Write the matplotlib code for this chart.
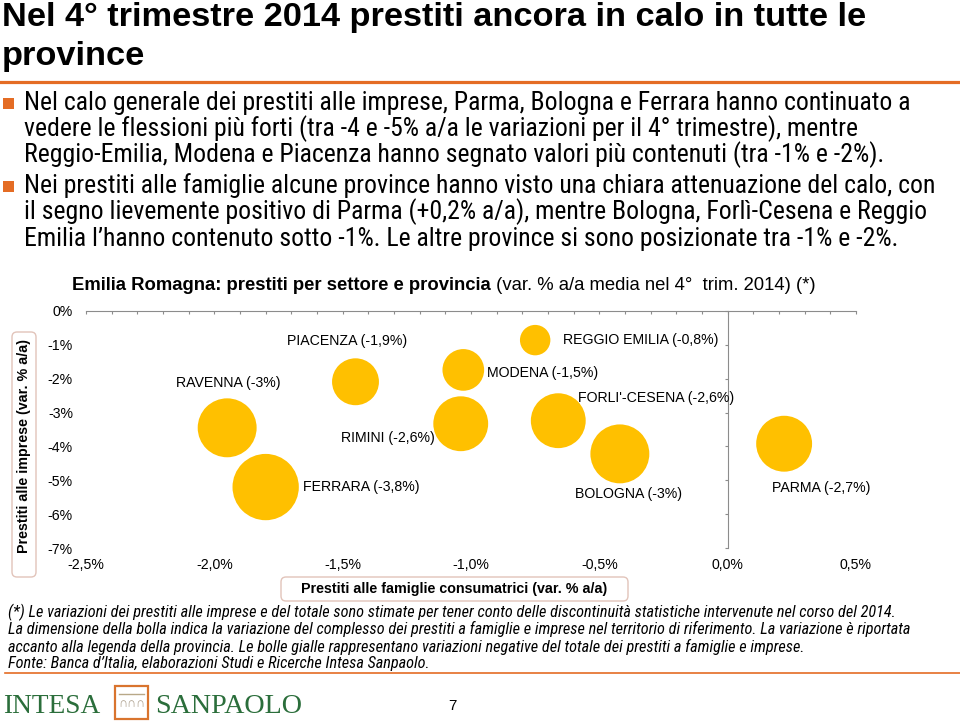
import matplotlib
matplotlib.use("Agg")
import matplotlib.pyplot as plt
from matplotlib.patches import FancyBboxPatch, Rectangle
from matplotlib.lines import Line2D
from matplotlib.ticker import FixedLocator, MultipleLocator, FuncFormatter
from matplotlib.transforms import Affine2D

# data (var. % a/a, 4th quarter 2014)
provinces = ["PIACENZA", "MODENA", "RIMINI", "RAVENNA", "FERRARA",
             "REGGIO EMILIA", "FORLI'-CESENA", "BOLOGNA", "PARMA"]
famiglie = [-1.45, -1.03, -1.04, -1.95, -1.80, -0.75, -0.66, -0.42, 0.22]
imprese = [-2.09, -1.74, -3.33, -3.45, -5.20, -0.86, -3.24, -4.22, -3.92]
totale = [-1.9, -1.5, -2.6, -3.0, -3.8, -0.8, -2.6, -3.0, -2.7]

x_ticks = [-2.5, -2.0, -1.5, -1.0, -0.5, 0.0, 0.5]
y_ticks = [0, -1, -2, -3, -4, -5, -6, -7]

# label offsets from bubble centre, in points
label_offsets = {
    "PIACENZA": (-49, 29), "MODENA": (17, -2), "RIMINI": (-86, -10),
    "RAVENNA": (-37, 32), "FERRARA": (27, 0), "REGGIO EMILIA": (20, 0),
    "FORLI'-CESENA": (14, 16), "BOLOGNA": (-32, -29), "PARMA": (-9, -32),
}

title_lines = ["Nel 4° trimestre 2014 prestiti ancora in calo in tutte le",
               "province"]
bullets = [
    ["Nel calo generale dei prestiti alle imprese, Parma, Bologna e Ferrara hanno continuato a",
     "vedere le flessioni più forti (tra -4 e -5% a/a le variazioni per il 4° trimestre), mentre",
     "Reggio-Emilia, Modena e Piacenza hanno segnato valori più contenuti (tra -1% e -2%)."],
    ["Nei prestiti alle famiglie alcune province hanno visto una chiara attenuazione del calo, con",
     "il segno lievemente positivo di Parma (+0,2% a/a), mentre Bologna, Forlì-Cesena e Reggio",
     "Emilia l’hanno contenuto sotto -1%. Le altre province si sono posizionate tra -1% e -2%."],
]
notes = [
    "(*) Le variazioni dei prestiti alle imprese e del totale sono stimate per tener conto delle discontinuità statistiche intervenute nel corso del 2014.",
    "La dimensione della bolla indica la variazione del complesso dei prestiti a famiglie e imprese nel territorio di riferimento. La variazione è riportata",
    "accanto alla legenda della provincia. Le bolle gialle rappresentano variazioni negative del totale dei prestiti a famiglie e imprese.",
    "Fonte: Banca d’Italia, elaborazioni Studi e Ricerche Intesa Sanpaolo.",
]

W, H = 960, 724
COND = ["Roboto Condensed", "DejaVu Sans"]
SANS = ["Liberation Sans", "DejaVu Sans"]
ORANGE = "#e46c24"
GOLD = "#ffc000"
GRAY = "#8c8c8c"
GREEN = "#2b6e3b"
BOXEDGE = "#e2c4ba"

fig = plt.figure(figsize=(W / 100, H / 100), dpi=100)
# pixel coordinates, origin at top-left / bottom-left
px = Affine2D().scale(1 / W, -1 / H).translate(0, 1) + fig.transFigure
px_bl = Affine2D().scale(1 / W, 1 / H) + fig.transFigure


def fit(texts, width):
    """Scale the font of `texts` so that the widest one is `width` pixels."""
    r = fig.canvas.get_renderer()
    w = max(t.get_window_extent(r).width for t in texts)
    for t in texts:
        t.set_fontsize(t.get_fontsize() * width / w)


def rounded_box(x0, y0, x1, y1):
    box = FancyBboxPatch((x0, H - y1), x1 - x0, y1 - y0,
                         boxstyle="round,pad=0,rounding_size=5",
                         transform=px_bl, fc="white", ec=BOXEDGE, lw=1)
    fig.add_artist(box)


def pct(v):
    return f"{v:g}".replace(".", ",")


# page title
tt = [fig.text(2, b, s, transform=px, family=SANS, weight="bold",
               fontsize=20, va="baseline")
      for s, b in zip(title_lines, [26, 65])]
fit(tt, 864)
fig.add_artist(Line2D([0, W], [81.5, 81.5], transform=px, color=ORANGE, lw=2.3))

# bullet paragraphs
bt = []
for lines, bases in zip(bullets, [[110, 136, 162], [193, 219, 246]]):
    fig.add_artist(Rectangle((3, bases[0] - 12), 11, 11, transform=px,
                             color=ORANGE, lw=0))
    for s, b in zip(lines, bases):
        bt.append(fig.text(24, b, s, transform=px, family=COND,
                           fontsize=15, va="baseline"))
fit(bt, 916)

# chart
ax = fig.add_axes([86 / W, 1 - 548 / H, 770 / W, 237 / H])
ax.scatter(famiglie, imprese, s=[600 * abs(v) for v in totale], color=GOLD,
           edgecolors="none", zorder=3, clip_on=False)
for name, xv, yv, tot in zip(provinces, famiglie, imprese, totale):
    ax.annotate(f"{name} ({pct(tot)}%)", (xv, yv), xytext=label_offsets[name],
                textcoords="offset points", ha="left", va="center",
                family=SANS, fontsize=10.2, zorder=4, annotation_clip=False)

ax.set_xlim(-2.5, 0.5)
ax.set_ylim(-7, 0)
ax.spines["left"].set_visible(False)
ax.spines["bottom"].set_visible(False)
ax.spines["right"].set_position(("data", 0))
for side in ["top", "right"]:
    ax.spines[side].set_color(GRAY)
    ax.spines[side].set_linewidth(0.8)

ax.xaxis.set_major_locator(FixedLocator(x_ticks))
ax.xaxis.set_minor_locator(MultipleLocator(0.1))
ax.xaxis.set_major_formatter(FuncFormatter(lambda v, p: f"{v:.1f}".replace(".", ",") + "%"))
ax.yaxis.set_major_locator(FixedLocator(y_ticks))
ax.yaxis.set_major_formatter(FuncFormatter(lambda v, p: f"{v:g}%"))
ax.tick_params(axis="x", which="both", top=True, bottom=False, labeltop=False,
               labelbottom=True, direction="in", length=2.5, width=0.8,
               color=GRAY, pad=7)
ax.tick_params(axis="y", left=False, right=True, labelleft=True,
               labelright=False, direction="in", length=2.5, width=0.8,
               color=GRAY, pad=9.4)
for lab in ax.get_xticklabels() + ax.get_yticklabels():
    lab.set_family(SANS)
    lab.set_fontsize(10.2)

# chart title
ct = fig.text(72, 285, "Emilia Romagna: prestiti per settore e provincia",
              transform=px, family=SANS, weight="bold", fontsize=13.3, va="center")
ax.annotate(" (var. % a/a media nel 4°  trim. 2014) (*)", xy=(1, 0), xycoords=ct,
            ha="left", va="bottom", family=SANS, fontsize=13.3,
            annotation_clip=False)

# axis titles in rounded boxes
rounded_box(12, 332, 36, 577)
fig.text(24, 446, "Prestiti alle imprese (var. % a/a)", transform=px,
         rotation=90, ha="center", va="center", family=SANS, weight="bold",
         fontsize=10.3)
rounded_box(281, 577, 628, 601)
fig.text(454, 589, "Prestiti alle famiglie consumatrici (var. % a/a)",
         transform=px, ha="center", va="center", family=SANS, weight="bold",
         fontsize=10.3)

# footnotes
nt = [fig.text(8, b, s, transform=px, family=COND, style="italic",
               fontsize=10, va="baseline")
      for s, b in zip(notes, [617, 634, 652, 668])]
fit(nt, 904)
fig.add_artist(Line2D([5, W], [673, 673], transform=px, color=ORANGE, lw=1.2))

# logo and page number
lg1 = fig.text(3, 713, "INTESA", transform=px, family="Liberation Serif",
               color=GREEN, fontsize=22, va="baseline")
fit([lg1], 97)
fig.add_artist(Rectangle((115, 686), 33, 33, transform=px, fill=False,
                         ec="#d9742e", lw=1.6))
fig.add_artist(Line2D([119, 144], [694, 694], transform=px, color="#b8a888", lw=1))
fig.text(131.5, 704, "∩∩∩", transform=px, ha="center", va="center",
         family=SANS, fontsize=9, color="#a89a86")
lg2 = fig.text(155, 713, "SANPAOLO", transform=px, family="Liberation Serif",
               color=GREEN, fontsize=22, va="baseline")
fit([lg2], 147)
fig.text(452, 706, "7", transform=px, ha="center", va="center",
         family=SANS, fontsize=11)

fig.savefig("out.png", dpi=100)
